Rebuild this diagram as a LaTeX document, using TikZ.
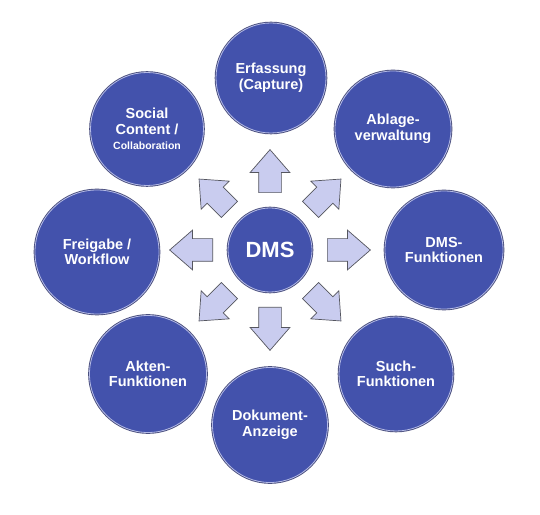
\documentclass[tikz,border=0pt]{standalone}
\usepackage{fontspec}
\setmainfont{Liberation Sans}
\usetikzlibrary{shapes.arrows,calc}
\definecolor{discblue}{HTML}{4352AC}
\definecolor{discrim}{HTML}{4A4F7E}
\definecolor{discshine}{HTML}{B4BAE6}
\definecolor{arrowfill}{HTML}{C9CCEF}
\definecolor{arrowline}{HTML}{55565F}
\begin{document}
\begin{tikzpicture}[x=1pt,y=1pt]
\tikzset{
  disc/.style={circle, fill=discblue, text=white, align=center, inner sep=0pt,
    preaction={draw=discrim, line width=2.6pt},
    draw=discshine, line width=0.8pt,
    font=\bfseries\fontsize{14.5}{15.5}\selectfont},
  blockarrow/.style={single arrow, draw=arrowline, fill=arrowfill, line width=0.7pt,
    minimum height=43pt, minimum width=39pt, single arrow head extend=8.5pt,
    single arrow tip angle=82, inner xsep=0pt, inner ysep=11pt, anchor=tail}
}
\useasboundingbox (0,0) rectangle (540,514);
\fill[white] (0,0) rectangle (540,514);
% centre
\node[disc, minimum size=84pt, font=\bfseries\fontsize{22}{24}\selectfont] (dms) at (270,264) {DMS};
% outer discs
\node[disc, minimum size=110pt] (erf) at (271,436) {Erfassung\\(Capture)};
\node[disc, minimum size=116pt] (abl) at (393,385) {Ablage-\\verwaltung};
\node[disc, minimum size=118pt] (dmsf) at (444,264) {DMS-\\Funktionen};
\node[disc, minimum size=114pt] (such) at (396,140) {Such-\\Funktionen};
\node[disc, minimum size=115pt] (dok) at (270,89) {Dokument-\\Anzeige};
\node[disc, minimum size=117pt] (akt) at (148,140) {Akten-\\Funktionen};
\node[disc, minimum size=124pt] (frei) at (97,262) {Freigabe /\\Workflow};
\node[disc, minimum size=113pt] (soc) at (147,385) {Social\\Content /\\{\fontsize{10.5}{12}\selectfont Collaboration}};
% arrows
\foreach \a/\n in {90/aerf,45/aabl,0/admsf,-45/asuch,-90/adok,-135/aakt,180/afrei,135/asoc}
  \node[blockarrow, rotate=\a] (\n) at ($(dms.center)+(\a:57)$) {};
\end{tikzpicture}
\end{document}
